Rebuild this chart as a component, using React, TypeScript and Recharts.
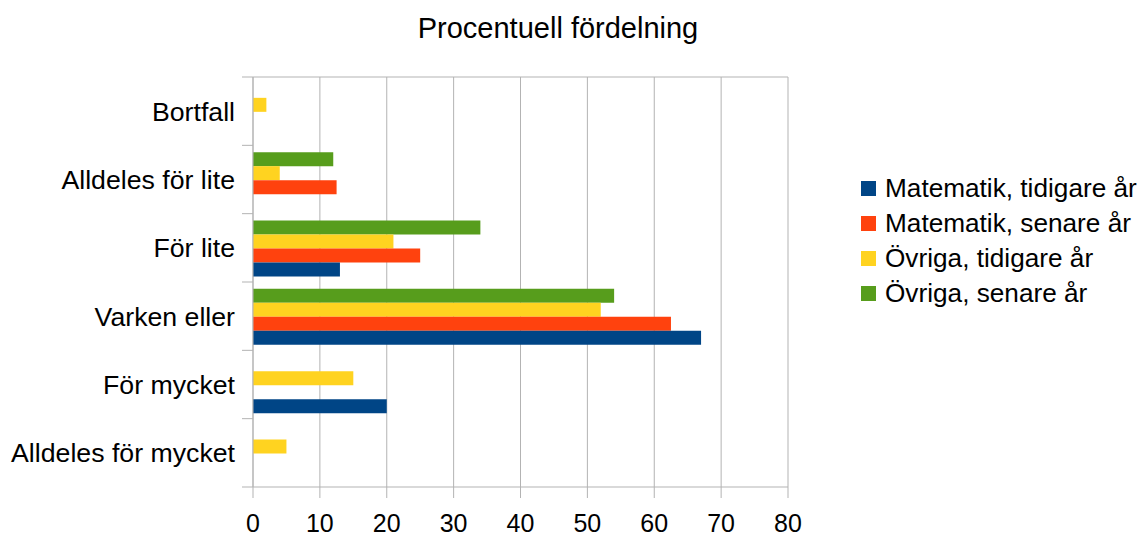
import { Bar, BarChart, CartesianGrid, Legend, XAxis, YAxis } from "recharts";

const categories = ["Bortfall", "Alldeles för lite", "För lite", "Varken eller", "För mycket", "Alldeles för mycket"];
const matteTidigare = [0, 0, 13, 67, 20, 0];
const matteSenare = [0, 12.5, 25, 62.5, 0, 0];
const ovrigaTidigare = [2, 4, 21, 52, 15, 5];
const ovrigaSenare = [0, 12, 34, 54, 0, 0];
const xTicks = [0, 10, 20, 30, 40, 50, 60, 70, 80];

const series = [
  { key: "matteTidigare", name: "Matematik, tidigare år", color: "#004586" },
  { key: "matteSenare", name: "Matematik, senare år", color: "#ff420e" },
  { key: "ovrigaTidigare", name: "Övriga, tidigare år", color: "#ffd320" },
  { key: "ovrigaSenare", name: "Övriga, senare år", color: "#579d1c" },
];

const data = categories.map((name, i) => ({
  name,
  matteTidigare: matteTidigare[i],
  matteSenare: matteSenare[i],
  ovrigaTidigare: ovrigaTidigare[i],
  ovrigaSenare: ovrigaSenare[i],
}));

const W = 1144;
const H = 536;
const TOP = 77;
const BOTTOM = 487;
const LEFT = 253;
const RIGHT = 788;
const BAND = (BOTTOM - TOP) / categories.length;
const FONT = '"Liberation Sans", Arial, sans-serif';
const GRID = "#b3b3b3";

function CategoryTick(props: any) {
  const { x, y, payload, index } = props;
  return (
    <g>
      <line x1={x - 11} x2={x} y1={y - BAND / 2} y2={y - BAND / 2} stroke={GRID} />
      {index === categories.length - 1 && (
        <line x1={x - 11} x2={x} y1={y + BAND / 2} y2={y + BAND / 2} stroke={GRID} />
      )}
      <text x={x - 18} y={y} dy="0.35em" textAnchor="end" fill="#000" fontSize={26.7} fontFamily={FONT}>
        {payload.value}
      </text>
    </g>
  );
}

function LegendBox() {
  return (
    <div style={{ fontFamily: FONT, fontSize: 26.2, color: "#000" }}>
      {series.map((s) => (
        <div key={s.key} style={{ display: "flex", alignItems: "center", height: 35, whiteSpace: "nowrap" }}>
          <span style={{ width: 15, height: 15, background: s.color, marginRight: 9, display: "inline-block" }} />
          {s.name}
        </div>
      ))}
    </div>
  );
}

export default function App() {
  return (
    <div style={{ position: "absolute", left: 0, top: 0, width: W, height: H, background: "#fff" }}>
      <div
        style={{
          position: "absolute",
          left: 0,
          width: W,
          top: 9,
          textAlign: "center",
          fontFamily: FONT,
          fontSize: 29,
          color: "#000",
          lineHeight: "38px",
        }}
      >
        <span style={{ position: "relative", left: -14 }}>Procentuell fördelning</span>
      </div>
      <BarChart
        width={W}
        height={H}
        data={data}
        layout="vertical"
        margin={{ top: TOP, right: W - RIGHT, bottom: 0, left: 0 }}
        barCategoryGap="10%"
        barGap={0}
      >
        <CartesianGrid
          stroke={GRID}
          vertical
          horizontal
          horizontalCoordinatesGenerator={({ offset }: any) => [offset.top]}
        />
        <XAxis
          type="number"
          domain={[0, 80]}
          ticks={xTicks}
          interval={0}
          height={H - BOTTOM}
          tickSize={11}
          tickMargin={16}
          axisLine={{ stroke: GRID }}
          tickLine={{ stroke: GRID }}
          tick={{ fill: "#000", fontSize: 25, fontFamily: FONT }}
        />
        <YAxis
          type="category"
          dataKey="name"
          width={LEFT}
          tickSize={0}
          tickMargin={0}
          tickLine={false}
          axisLine={{ stroke: GRID }}
          interval={0}
          tick={<CategoryTick />}
        />
        <Legend
          layout="horizontal"
          verticalAlign="middle"
          align="center"
          content={<LegendBox />}
          wrapperStyle={{ left: 861, top: 171, width: 283 }}
        />
        {[...series].reverse().map((s) => (
          <Bar key={s.key} dataKey={s.key} name={s.name} fill={s.color} isAnimationActive={false} />
        ))}
      </BarChart>
    </div>
  );
}
